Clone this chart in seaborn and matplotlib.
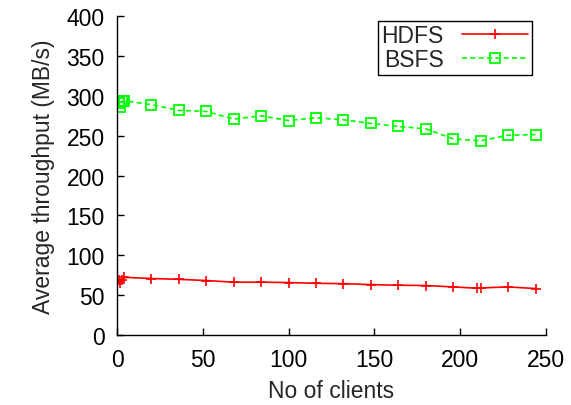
import numpy as np
import pandas as pd
import matplotlib
matplotlib.use("Agg")
import matplotlib.pyplot as plt
import seaborn as sns

# -----------------------------
# DATA
# -----------------------------
hdfs_clients = [1, 2, 3, 4, 20, 36, 52, 68, 84, 100, 116, 132, 148, 164, 180, 196, 210, 212, 228, 244]
hdfs_tput = [69, 66, 69, 72.5, 71, 70, 68.5, 66.4, 66.4, 66, 65, 64.6, 63.4, 62.6, 62.2, 60.5, 58.8, 59.2, 60.5, 58.4]

bsfs_clients = [1, 2, 3, 4, 20, 36, 52, 68, 84, 100, 116, 132, 148, 164, 180, 196, 212, 228, 244]
bsfs_tput = [291, 286, 293, 294, 289, 281.7, 280.5, 270.8, 275, 269, 272.5, 270, 265.4, 261.6, 258.7, 246, 243.6, 250.6, 251.5]

x_ticks = [0, 50, 100, 150, 200, 250]
y_ticks = [0, 50, 100, 150, 200, 250, 300, 350, 400]

hdfs = pd.DataFrame({"clients": hdfs_clients, "tput": hdfs_tput})
bsfs = pd.DataFrame({"clients": bsfs_clients, "tput": bsfs_tput})

# -----------------------------
# STYLE
# -----------------------------
sns.set_style("ticks")
plt.rcParams["font.family"] = ["Liberation Sans", "DejaVu Sans"]
FS = 16.5

fig = plt.figure(figsize=(5.71, 4.06), dpi=100)
ax = fig.add_axes([0.205, 0.172, 0.751, 0.786])

sns.lineplot(data=hdfs, x="clients", y="tput", ax=ax, sort=False,
             color="#ff0000", linewidth=1.2, marker="+", markersize=7,
             markeredgecolor="#ff0000", markeredgewidth=1.2, label="HDFS")
sns.lineplot(data=bsfs, x="clients", y="tput", ax=ax, sort=False,
             color="#00ff00", linewidth=1.2, linestyle=(0, (3, 2)),
             marker="s", markersize=6.5, markerfacecolor="none",
             markeredgecolor="#00ff00", markeredgewidth=1.3, label="BSFS")

ax.set_xlim(0, 250)
ax.set_ylim(0, 400)
ax.set_xticks(x_ticks)
ax.set_yticks(y_ticks)
ax.tick_params(direction="in", length=5, width=1, labelsize=FS, pad=9,
               colors="black")
for side in ["top", "right"]:
    ax.spines[side].set_visible(False)
for side in ["left", "bottom"]:
    ax.spines[side].set_linewidth(1)
    ax.spines[side].set_color("black")

ax.set_xlabel("No of clients", fontsize=FS, labelpad=6)
ax.set_ylabel("Average throughput (MB/s)", fontsize=FS, labelpad=8)

leg = ax.legend(loc="upper right", bbox_to_anchor=(0.967, 0.985),
                markerfirst=False, fancybox=False, framealpha=1,
                edgecolor="black", fontsize=FS, handlelength=2.9,
                borderpad=0.15, labelspacing=0.05, handletextpad=0.8,
                borderaxespad=0)
leg.get_frame().set_linewidth(1)

fig.savefig("out.png", dpi=100)
